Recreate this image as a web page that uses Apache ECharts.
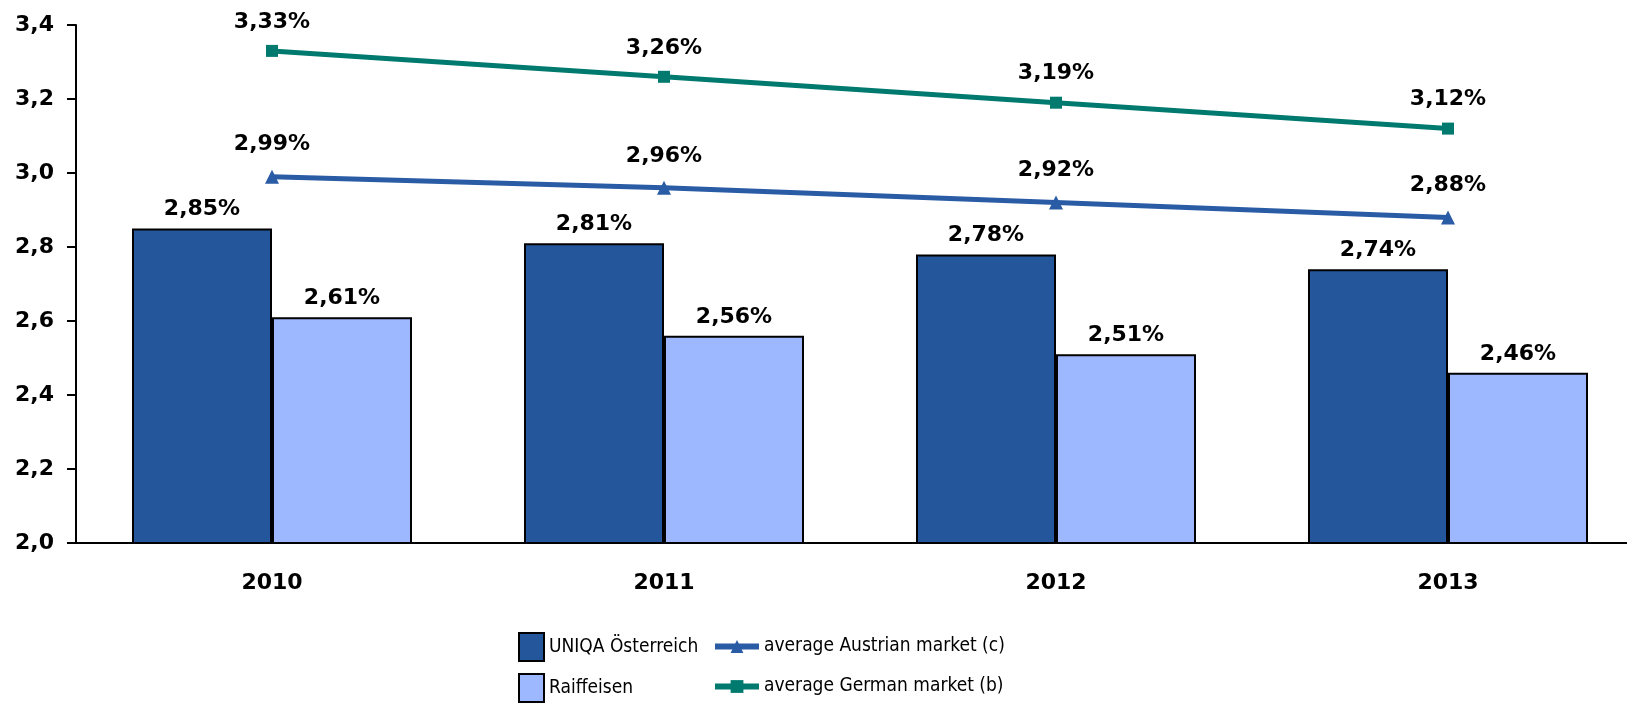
<!DOCTYPE html>
<html>
<head>
<meta charset="utf-8">
<script src="https://cdn.jsdelivr.net/npm/echarts@6/dist/echarts.min.js"></script>
<style>html,body{margin:0;padding:0;background:#fff}#c{width:1627px;height:705px}</style>
</head>
<body>
<div id="c"></div>
<script>
const categories = ['2010', '2011', '2012', '2013'];
const uniqa = [2.85, 2.81, 2.78, 2.74];
const raiffeisen = [2.61, 2.56, 2.51, 2.46];
const austrian = [2.99, 2.96, 2.92, 2.88];
const german = [3.33, 3.26, 3.19, 3.12];
const yTicks = { min: 2.0, max: 3.4, interval: 0.2 };

const labelFont = { fontFamily: 'DejaVu Sans', fontWeight: 'bold', fontSize: 22, color: '#000' };
const legendFont = { fontFamily: "'Liberation Sans Narrow', 'DejaVu Sans Condensed', sans-serif", fontSize: 19, color: '#000' };
const fmt = p => p.value.toFixed(2).replace('.', ',') + '%';

function barLegend(name, top) {
  return { data: [{ name: name, icon: 'rect' }], left: 518, top: top, padding: 0,
    itemWidth: 25, itemHeight: 28, itemGap: 0, textStyle: legendFont };
}
function lineLegend(name, top) {
  return { data: [name], left: 712, top: top, padding: 0,
    itemWidth: 44, itemHeight: 16, itemGap: 0, lineStyle: { width: 6 }, textStyle: legendFont };
}

const chart = echarts.init(document.getElementById('c'), null, { renderer: 'canvas' });
chart.setOption({
  animation: false,
  backgroundColor: '#fff',
  grid: { left: 76, top: 25, bottom: 162, width: 1568, outerBoundsMode: 'none', containLabel: false },
  xAxis: {
    type: 'category', data: categories,
    axisLine: { lineStyle: { color: '#000', width: 2 } },
    axisTick: { show: false },
    axisLabel: Object.assign({ margin: 29 }, labelFont)
  },
  yAxis: {
    type: 'value', min: yTicks.min, max: yTicks.max, interval: yTicks.interval,
    splitLine: { show: false },
    axisLine: { show: true, lineStyle: { color: '#000', width: 2 } },
    axisTick: { show: true, length: 9, lineStyle: { color: '#000', width: 2 } },
    axisLabel: Object.assign({ margin: 22, formatter: v => v.toFixed(1).replace('.', ',') }, labelFont)
  },
  legend: [
    barLegend('UNIQA Österreich', 632),
    barLegend('Raiffeisen', 673),
    lineLegend('average Austrian market (c)', 637),
    lineLegend('average German market (b)', 677)
  ],
  series: [
    {
      name: 'UNIQA Österreich', type: 'bar', data: uniqa,
      barWidth: 140, barGap: '0%',
      itemStyle: { color: '#24569B', borderColor: '#000', borderWidth: 2 },
      label: Object.assign({ show: true, position: 'top', distance: 8, formatter: fmt }, labelFont)
    },
    {
      name: 'Raiffeisen', type: 'bar', data: raiffeisen,
      barWidth: 140, barGap: '0%',
      itemStyle: { color: '#9DB8FF', borderColor: '#000', borderWidth: 2 },
      label: Object.assign({ show: true, position: 'top', distance: 8, formatter: fmt }, labelFont)
    },
    {
      name: 'average Austrian market (c)', type: 'line', data: austrian,
      symbol: 'triangle', symbolSize: 14,
      lineStyle: { color: '#2A5BA5', width: 5 },
      itemStyle: { color: '#2A5BA5' },
      label: Object.assign({ show: true, position: 'top', distance: 14, formatter: fmt }, labelFont)
    },
    {
      name: 'average German market (b)', type: 'line', data: german,
      symbol: 'rect', symbolSize: 12,
      lineStyle: { color: '#007A6E', width: 5 },
      itemStyle: { color: '#007A6E' },
      label: Object.assign({ show: true, position: 'top', distance: 12, formatter: fmt }, labelFont)
    }
  ]
});
</script>
</body>
</html>
